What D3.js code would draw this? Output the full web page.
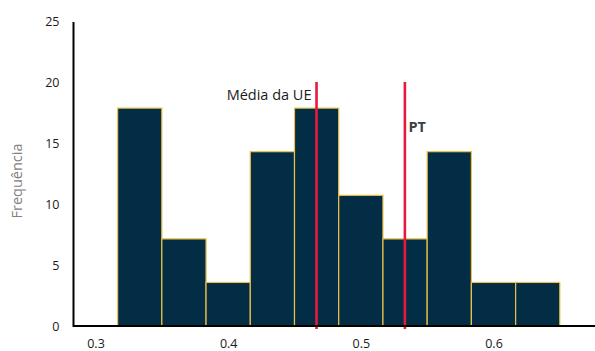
<!DOCTYPE html>
<html>
<head>
<meta charset="utf-8">
<script src="https://cdn.jsdelivr.net/npm/d3@7/dist/d3.min.js"></script>
<style>
  html, body { margin: 0; padding: 0; background: #fff; }
  svg { display: block; font-family: "Open Sans", "Noto Sans", sans-serif; }
</style>
</head>
<body>
<svg id="chart" width="595" height="351"></svg>
<script>
// Histogram bins (lower / upper edges) and share of countries (%)
const binStart = [0.31667, 0.35, 0.38333, 0.41667, 0.45, 0.48333, 0.51667, 0.55, 0.58333, 0.61667];
const binEnd   = [0.35, 0.38333, 0.41667, 0.45, 0.48333, 0.51667, 0.55, 0.58333, 0.61667, 0.65];
const freq     = [17.86, 7.14, 3.57, 14.29, 17.86, 10.71, 7.14, 14.29, 3.57, 3.57];

// Reference markers
const markerNames  = ["Média da UE", "PT"];
const markerValues = [0.4666, 0.5332];
const markerTop    = 20;

// Axis ticks
const xTicks = [0.3, 0.4, 0.5, 0.6];
const yTicks = [0, 5, 10, 15, 20, 25];

const svg = d3.select("#chart");

const x = d3.scaleLinear().domain([0.3, 0.6]).range([95.5, 493.5]);
const y = d3.scaleLinear().domain([0, 25]).range([326, 21]);

const xLeft = 73.5, xRight = 595;

// Bars
svg.append("g").selectAll("rect")
  .data(freq)
  .join("rect")
  .attr("x", (d, i) => x(binStart[i]))
  .attr("y", d => y(d))
  .attr("width", (d, i) => x(binEnd[i]) - x(binStart[i]))
  .attr("height", d => y(0) - y(d))
  .attr("fill", "#032d44")
  .attr("stroke", "#ecc04a")
  .attr("stroke-width", 1.2);

// Reference lines
svg.append("g").selectAll("line")
  .data(markerValues)
  .join("line")
  .attr("x1", d => x(d))
  .attr("x2", d => x(d))
  .attr("y1", y(markerTop))
  .attr("y2", y(0) + 3)
  .attr("stroke", "#e8193c")
  .attr("stroke-width", 2.6);

// Axis lines
svg.append("line")
  .attr("x1", xLeft).attr("x2", xRight)
  .attr("y1", y(0)).attr("y2", y(0))
  .attr("stroke", "#000").attr("stroke-width", 2);
svg.append("line")
  .attr("x1", xLeft).attr("x2", xLeft)
  .attr("y1", y(25) + 1).attr("y2", y(0) + 1)
  .attr("stroke", "#000").attr("stroke-width", 2);

// Y tick labels
const yAxis = d3.axisLeft(y).tickValues(yTicks).tickSize(0).tickPadding(0);
const gy = svg.append("g").attr("transform", "translate(59.5,0)").call(yAxis);
gy.select(".domain").remove();
gy.selectAll("text").attr("font-size", 12.5).attr("fill", "#1a1a1a")
  .attr("font-family", "'Open Sans', sans-serif");

// X tick labels
const xAxis = d3.axisBottom(x).tickValues(xTicks).tickFormat(d3.format(".1f")).tickSize(0).tickPadding(0);
const gx = svg.append("g").attr("transform", "translate(0,339.5)").call(xAxis);
gx.select(".domain").remove();
gx.selectAll("text").attr("font-size", 12.5).attr("fill", "#1a1a1a")
  .attr("font-family", "'Open Sans', sans-serif");

// Y axis title
svg.append("text")
  .attr("transform", "translate(22,181) rotate(-90)")
  .attr("text-anchor", "middle")
  .attr("font-size", 14.5)
  .attr("fill", "#808080")
  .text("Frequência");

// Marker labels
svg.append("text")
  .attr("x", x(markerValues[0]) - 5)
  .attr("y", 100)
  .attr("text-anchor", "end")
  .attr("font-size", 14.5)
  .attr("fill", "#1a1a1a")
  .text(markerNames[0]);

svg.append("text")
  .attr("x", x(markerValues[1]) + 3.5)
  .attr("y", 132)
  .attr("text-anchor", "start")
  .attr("font-size", 14.5)
  .attr("font-weight", "bold")
  .attr("fill", "#404040")
  .text(markerNames[1]);
</script>
</body>
</html>
